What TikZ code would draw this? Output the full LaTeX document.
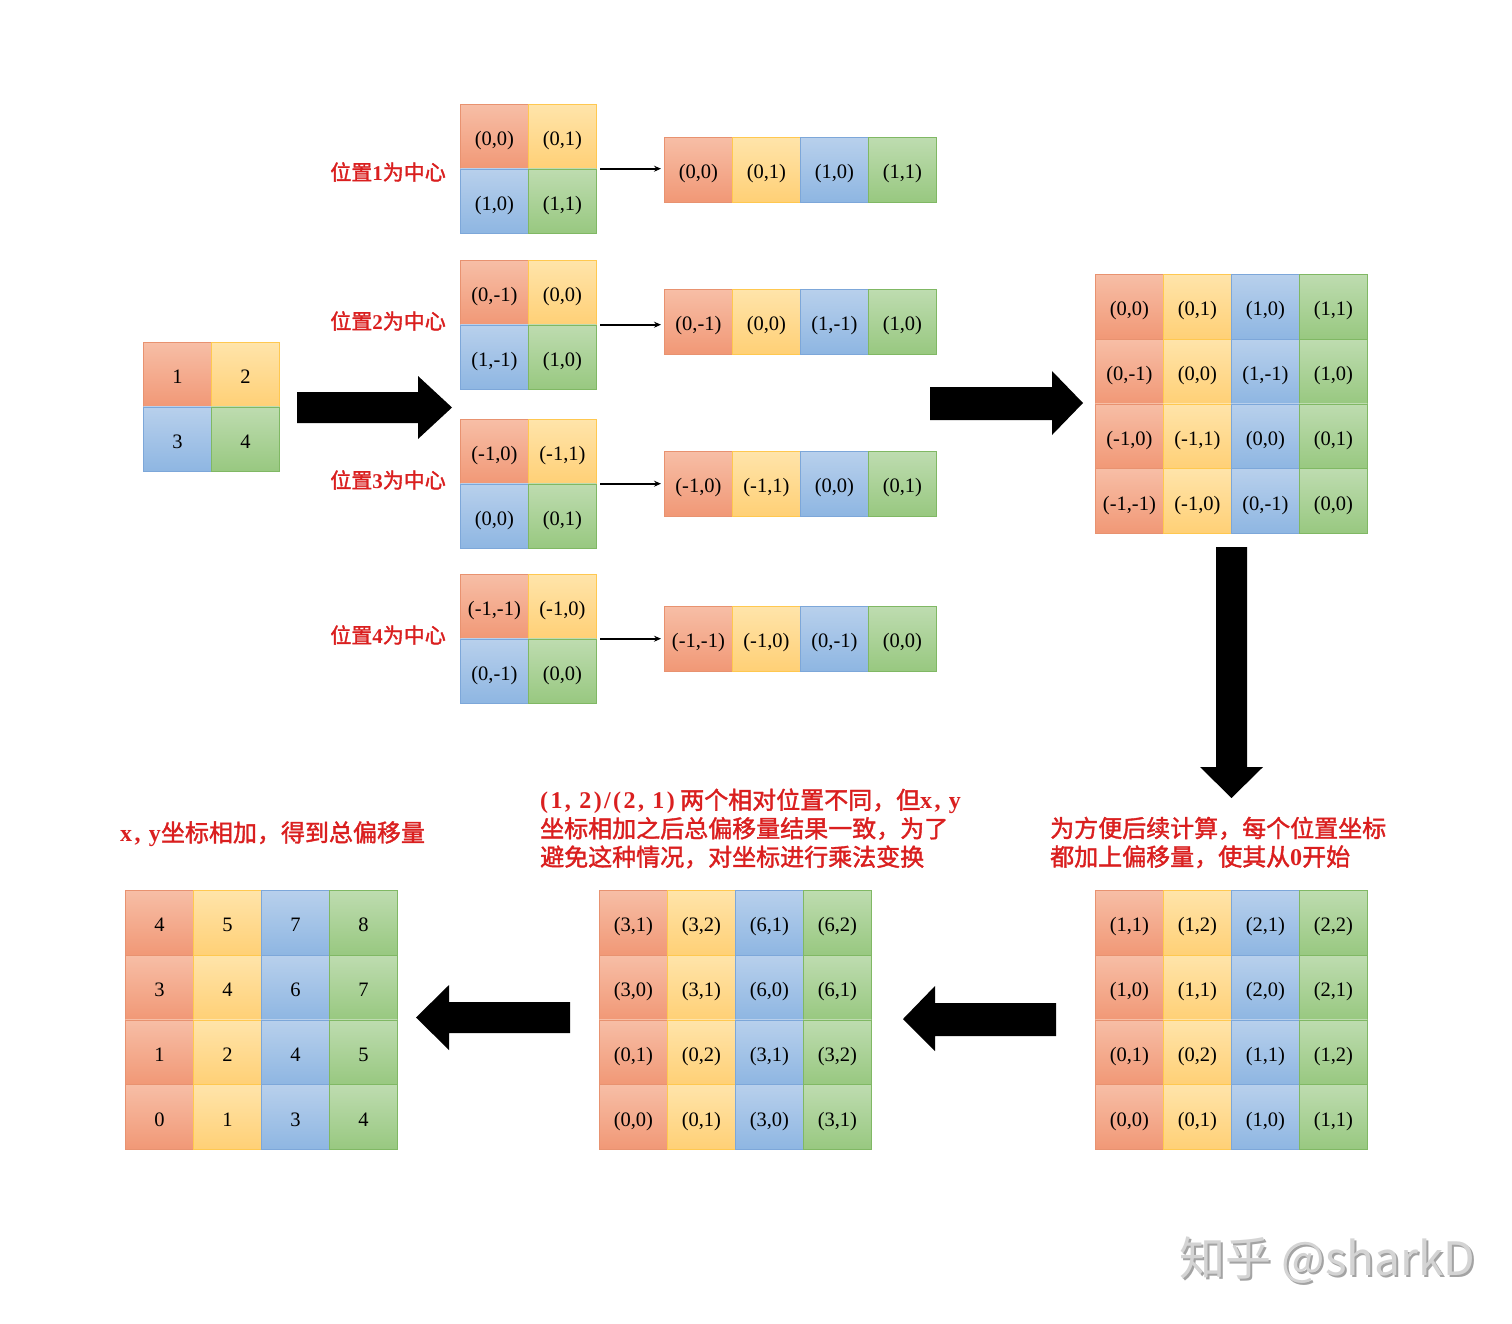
\documentclass[tikz,border=0pt]{standalone}
\usepackage{fontspec}
\setmainfont{Liberation Serif}
\newfontfamily\cjk{Noto Sans CJK SC}[FakeBold=1.6]
\newfontfamily\cjkplain{Noto Sans CJK SC}
\newfontfamily\latb{Liberation Serif}[LetterSpace=10]
\usetikzlibrary{arrows.meta}
\definecolor{T0}{RGB}{247,190,166}
\definecolor{B0}{RGB}{241,152,118}
\definecolor{D0}{RGB}{232,146,112}
\definecolor{T1}{RGB}{255,228,170}
\definecolor{B1}{RGB}{255,208,118}
\definecolor{D1}{RGB}{255,200,80}
\definecolor{T2}{RGB}{184,208,236}
\definecolor{B2}{RGB}{142,182,226}
\definecolor{D2}{RGB}{125,167,217}
\definecolor{T3}{RGB}{190,220,176}
\definecolor{B3}{RGB}{152,200,128}
\definecolor{D3}{RGB}{128,184,100}
\definecolor{redtxt}{RGB}{218,31,31}
\tikzset{
  cell/.style={rectangle, inner sep=0pt, anchor=north west,
    minimum width=68pt, minimum height=64.5pt, line width=0.8pt,
    top color=T#1, bottom color=B#1, draw=D#1,
    text height=18pt, text depth=0pt,
    font=\fontsize{20.5}{20.5}\selectfont},
  gridbox/.style={rectangle, inner sep=0pt, anchor=north west, draw=none},
  lbl/.style={text=redtxt, anchor=east, inner sep=0pt,
    font=\cjk\fontsize{21}{21}\selectfont},
  note/.style={text=redtxt, anchor=west, inner sep=0pt, align=left,
    font=\cjk\fontsize{24}{28.5}\selectfont},
  smallarrow/.style={-{Stealth[length=7pt,width=6pt]}, line width=1.8pt,
    shorten <=4pt, shorten >=3pt},
  blockarrow/.style={fill=black, draw=none}
}
% 2x2 grid: name, x, y, texts
\newcommand\twogrid[4]{%
  \foreach \t [count=\i from 0] in {#4} {
    \pgfmathtruncatemacro\cc{mod(\i,2)}
    \pgfmathtruncatemacro\rr{int(\i/2)}
    \node[cell=\i] (#1-\i) at ({#2+68*\cc},{#3+64.5*\rr}) {\t};
  }
  \node[gridbox, minimum width=136pt, minimum height=129pt] (#1) at (#2,#3) {};
}
% 1x4 strip
\newcommand\strip[4]{%
  \foreach \t [count=\i from 0] in {#4} {
    \node[cell=\i] (#1-\i) at ({#2+68*\i},#3) {\t};
  }
  \node[gridbox, minimum width=272pt, minimum height=64.5pt] (#1) at (#2,#3) {};
}
% 4x4 grid
\newcommand\fourgrid[4]{%
  \foreach \t [count=\i from 0] in {#4} {
    \pgfmathtruncatemacro\cc{mod(\i,4)}
    \pgfmathtruncatemacro\rr{int(\i/4)}
    \node[cell=\cc, minimum height=64.75pt] (#1-\i) at ({#2+68*\cc},{#3+64.75*\rr}) {\t};
  }
  \node[gridbox, minimum width=272pt, minimum height=259pt] (#1) at (#2,#3) {};
}
\newcommand\poslabel[1]{位置{\rmfamily\bfseries #1}为中心}
\begin{document}
\begin{tikzpicture}[x=1pt,y=-1pt]
\useasboundingbox (0,0) rectangle (1512,1323);
\fill[white] (0,0) rectangle (1512,1323);

% original 2x2
\twogrid{A}{143}{342}{1,2,3,4}

% position-centred grids
\twogrid{P1}{460}{104}{{(0,0)},{(0,1)},{(1,0)},{(1,1)}}
\twogrid{P2}{460}{260}{{(0,-1)},{(0,0)},{(1,-1)},{(1,0)}}
\twogrid{P3}{460}{419}{{(-1,0)},{(-1,1)},{(0,0)},{(0,1)}}
\twogrid{P4}{460}{574}{{(-1,-1)},{(-1,0)},{(0,-1)},{(0,0)}}

\node[lbl] (L1) at (446,172) {\poslabel{1}};
\node[lbl] (L2) at (446,321) {\poslabel{2}};
\node[lbl] (L3) at (446,480) {\poslabel{3}};
\node[lbl] (L4) at (446,635) {\poslabel{4}};

% flattened strips
\strip{S1}{664}{137}{{(0,0)},{(0,1)},{(1,0)},{(1,1)}}
\strip{S2}{664}{289}{{(0,-1)},{(0,0)},{(1,-1)},{(1,0)}}
\strip{S3}{664}{451}{{(-1,0)},{(-1,1)},{(0,0)},{(0,1)}}
\strip{S4}{664}{606}{{(-1,-1)},{(-1,0)},{(0,-1)},{(0,0)}}

\draw[smallarrow] (P1.east) -- (P1.east -| S1.west);
\draw[smallarrow] (P2.east) -- (P2.east -| S2.west);
\draw[smallarrow] (P3.east) -- (P3.east -| S3.west);
\draw[smallarrow] (P4.east) -- (P4.east -| S4.west);

% big relative-position grid
\fourgrid{T}{1095}{274}{{(0,0)},{(0,1)},{(1,0)},{(1,1)},
  {(0,-1)},{(0,0)},{(1,-1)},{(1,0)},
  {(-1,0)},{(-1,1)},{(0,0)},{(0,1)},
  {(-1,-1)},{(-1,0)},{(0,-1)},{(0,0)}}

% shifted grid
\fourgrid{R}{1095}{890}{{(1,1)},{(1,2)},{(2,1)},{(2,2)},
  {(1,0)},{(1,1)},{(2,0)},{(2,1)},
  {(0,1)},{(0,2)},{(1,1)},{(1,2)},
  {(0,0)},{(0,1)},{(1,0)},{(1,1)}}

% multiplied grid
\fourgrid{M}{599}{890}{{(3,1)},{(3,2)},{(6,1)},{(6,2)},
  {(3,0)},{(3,1)},{(6,0)},{(6,1)},
  {(0,1)},{(0,2)},{(3,1)},{(3,2)},
  {(0,0)},{(0,1)},{(3,0)},{(3,1)}}

% summed grid
\fourgrid{Lg}{125}{890}{4,5,7,8,3,4,6,7,1,2,4,5,0,1,3,4}

% block arrows
\fill[blockarrow] (297,392) -- (418,392) -- (418,376) -- (452,407.5) -- (418,439) -- (418,423) -- (297,423) -- cycle;
\fill[blockarrow] (930,387) -- (1052,387) -- (1052,371) -- (1083,403) -- (1052,435) -- (1052,420) -- (930,420) -- cycle;
\fill[blockarrow] (1216,547) -- (1247,547) -- (1247,767) -- (1263,767) -- (1231.5,798) -- (1200,767) -- (1216,767) -- cycle;
\fill[blockarrow] (1056,1003) -- (935,1003) -- (935,986) -- (903,1019) -- (935,1051) -- (935,1036) -- (1056,1036) -- cycle;
\fill[blockarrow] (570,1002) -- (449,1002) -- (449,985) -- (416,1017.5) -- (449,1050) -- (449,1033) -- (570,1033) -- cycle;

% notes
\node[note] (N1) at (1050,842.5) {为方便后续计算，每个位置坐标\\都加上偏移量，使其从{\latb\bfseries 0}开始};
\node[note] (N2) at (540,828.5) {{\latb\bfseries (1, 2)/(2, 1)} 两个相对位置不同，但{\latb\bfseries x, y}\\坐标相加之后总偏移量结果一致，为了\\避免这种情况，对坐标进行乘法变换};
\node[note] (N3) at (120,834) {{\latb\bfseries x, y}坐标相加，得到总偏移量};

% watermark
\node[inner sep=0pt, text=black!36, font=\cjkplain\fontsize{46}{46}\selectfont] (W0) at (1329.5,1262.5) {知乎 @sharkD};
\node[inner sep=0pt, text=black!17, font=\cjkplain\fontsize{46}{46}\selectfont] (W) at (1327.5,1260.5) {知乎 @sharkD};
\end{tikzpicture}
\end{document}
